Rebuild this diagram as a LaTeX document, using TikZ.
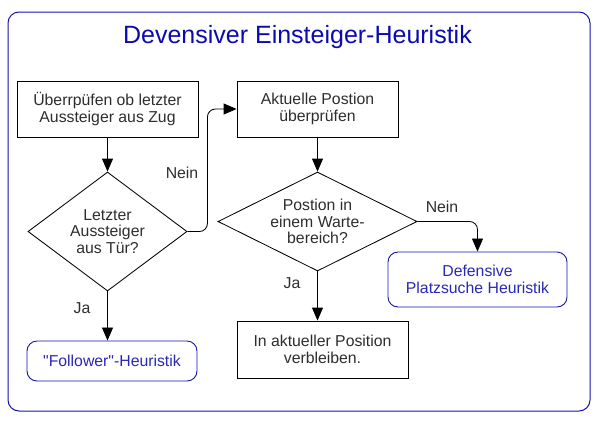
\documentclass[tikz,border=0pt]{standalone}
\usepackage{fontspec}
\setmainfont{Liberation Sans}[Ligatures=TeXOff]
\usetikzlibrary{shapes.geometric,arrows.meta}
\definecolor{frameblue}{RGB}{20,20,170}
\definecolor{titleblue}{RGB}{10,10,175}
\definecolor{boxblue}{RGB}{40,40,180}
\definecolor{txtgray}{RGB}{45,45,45}
\begin{document}
\begin{tikzpicture}[x=1pt,y=-1pt,
  every node/.style={font=\fontsize{15.8}{16.5}\selectfont, text=txtgray},
  procbox/.style={draw=black, line width=0.85pt, rectangle, align=center, inner sep=0pt},
  endbox/.style={draw=frameblue, line width=0.9pt, rectangle, rounded corners=10pt, align=center, inner sep=0pt, text=boxblue},
  decbox/.style={draw=black, line width=0.85pt, diamond, align=center, inner sep=0pt},
  conn/.style={draw=black, line width=0.85pt, -{Triangle[length=13pt,width=11pt]}},
  lbl/.style={inner sep=0pt}]
\useasboundingbox (0,0) rectangle (596,421);
\draw[frameblue, line width=1pt, rounded corners=11pt] (8,12) rectangle (590,411);
\node[text=titleblue, font=\fontsize{25}{27}\selectfont] (title) at (297.5,37) {Devensiver Einsteiger-Heuristik};
\node[procbox, minimum width=181pt, minimum height=56pt] (b1) at (107.5,109) {Überrpüfen ob letzter\\Aussteiger aus Zug};
\node[procbox, minimum width=161pt, minimum height=56pt] (b2) at (317.5,109) {Aktuelle Postion\\überprüfen};
\node[decbox, minimum width=159pt, minimum height=119pt, aspect=1.336] (d1) at (107.5,231.5) {Letzter\\Aussteiger\\aus Tür?};
\node[decbox, minimum width=199pt, minimum height=99pt, aspect=2.01] (d2) at (317.5,221.5) {Postion in\\einem Warte-\\bereich?};
\node[endbox, minimum width=170pt, minimum height=40pt] (fol) at (112,361) {"Follower"-Heuristik};
\node[procbox, minimum width=171pt, minimum height=57pt] (stay) at (322.5,349.5) {In aktueller Position\\verbleiben.};
\node[endbox, minimum width=179pt, minimum height=55pt] (def) at (477.5,279.5) {Defensive\\Platzsuche Heuristik};
\draw[conn] (b1.south) -- (d1.north);
\draw[conn, rounded corners=8pt] (d1.east) -- ++(20,0) |- (b2.west);
\draw[conn] (d1.south) -- (fol.north -| d1.south);
\draw[conn] (b2.south) -- (d2.north);
\draw[conn] (d2.south) -- (stay.north -| d2.south);
\draw[conn, rounded corners=8pt] (d2.east) -| (def.north);
\node[lbl] (l1) at (182,173) {Nein};
\node[lbl] (l2) at (82,308) {Ja};
\node[lbl] (l3) at (292,283) {Ja};
\node[lbl] (l4) at (442,207) {Nein};
\end{tikzpicture}
\end{document}
